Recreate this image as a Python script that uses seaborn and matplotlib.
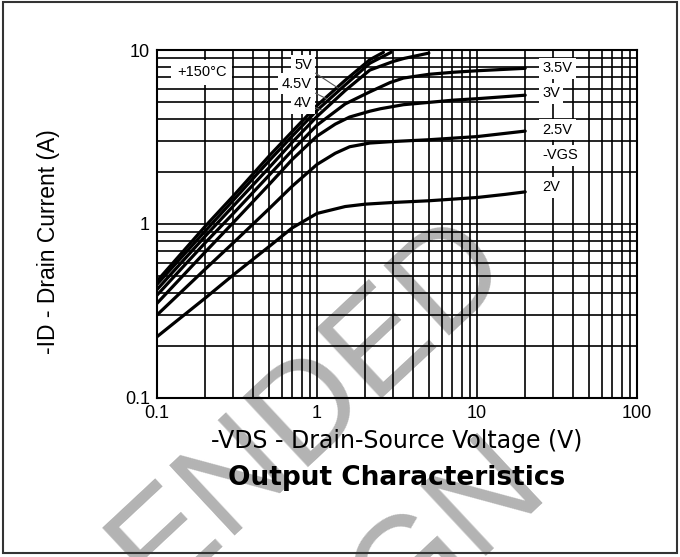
import numpy as np
import pandas as pd
import matplotlib
matplotlib.use("Agg")
import matplotlib.pyplot as plt
import seaborn as sns
from matplotlib.patches import Rectangle
from matplotlib.ticker import FixedLocator, FixedFormatter, LogLocator, NullFormatter
from matplotlib import font_manager

# ---- data (VGS curves, -VDS in V, -ID in A) ----
vds_2v = [0.1, 0.2, 0.3, 0.5, 0.7, 1.0, 1.5, 2.0, 3.0, 5.0, 10, 15, 20]
id_2v = [0.225, 0.375, 0.51, 0.74, 0.95, 1.15, 1.26, 1.30, 1.33, 1.36, 1.42, 1.48, 1.53]

vds_25v = [0.1, 0.2, 0.3, 0.5, 0.7, 1.0, 1.3, 1.6, 2.14, 3.0, 5.0, 10, 20]
id_25v = [0.30, 0.55, 0.78, 1.22, 1.65, 2.2, 2.55, 2.78, 2.92, 2.98, 3.05, 3.18, 3.42]

vds_3v = [0.1, 0.2, 0.3, 0.5, 0.7, 1.0, 1.3, 1.6, 2.14, 2.5, 3.47, 5.0, 7.1, 10, 20]
id_3v = [0.35, 0.69, 1.02, 1.68, 2.35, 3.2, 3.75, 4.12, 4.45, 4.6, 4.85, 5.0, 5.15, 5.25, 5.5]

vds_35v = [0.1, 0.2, 0.3, 0.5, 0.7, 1.0, 1.5, 2.14, 2.86, 3.47, 5.0, 7.1, 10, 20]
id_35v = [0.39, 0.78, 1.15, 1.9, 2.65, 3.7, 4.9, 5.75, 6.5, 6.9, 7.25, 7.45, 7.6, 7.85]

vds_4v = [0.1, 0.2, 0.3, 0.5, 0.7, 1.0, 1.5, 2.14, 3.0, 3.5, 5.0]
id_4v = [0.42, 0.85, 1.27, 2.1, 2.95, 4.15, 5.85, 7.67, 8.6, 8.95, 9.6]

vds_45v = [0.1, 0.2, 0.3, 0.5, 0.7, 1.0, 1.5, 2.14, 2.9]
id_45v = [0.45, 0.91, 1.37, 2.3, 3.2, 4.5, 6.3, 8.4, 9.7]

vds_5v = [0.1, 0.2, 0.3, 0.5, 0.7, 1.0, 1.5, 2.14, 2.6]
id_5v = [0.47, 0.97, 1.45, 2.45, 3.4, 4.8, 6.7, 8.8, 9.7]

vgs_names = ["2V", "2.5V", "3V", "3.5V", "4V", "4.5V", "5V"]
curves = [(vds_2v, id_2v), (vds_25v, id_25v), (vds_3v, id_3v), (vds_35v, id_35v),
          (vds_4v, id_4v), (vds_45v, id_45v), (vds_5v, id_5v)]

x_ticks = [0.1, 1, 10, 100]
x_ticklabels = ["0.1", "1", "10", "100"]
y_ticks = [0.1, 1, 10]
y_ticklabels = ["0.1", "1", "10"]

rows = []
for name, (xs, ys) in zip(vgs_names, curves):
    for i, (xv, yv) in enumerate(zip(xs, ys)):
        rows.append({"vgs": name, "vds": xv, "id": yv, "order": i})
df = pd.DataFrame(rows)

# ---- figure ----
sns.set_theme(style="white")
plt.rcParams["font.family"] = ["Liberation Sans", "DejaVu Sans"]

fig = plt.figure(figsize=(6.8, 5.57), dpi=100)
ax = fig.add_axes([0.2309, 0.2855, 0.7059, 0.6247])
ax.set_facecolor("none")

sns.lineplot(data=df, x="vds", y="id", hue="vgs", palette={n: "black" for n in vgs_names},
             sort=False, estimator=None, linewidth=2.3, legend=False, ax=ax, zorder=3)

ax.set_xscale("log")
ax.set_yscale("log")
ax.set_xlim(0.1, 100)
ax.set_ylim(0.1, 10)

ax.xaxis.set_major_locator(FixedLocator(x_ticks))
ax.xaxis.set_major_formatter(FixedFormatter(x_ticklabels))
ax.yaxis.set_major_locator(FixedLocator(y_ticks))
ax.yaxis.set_major_formatter(FixedFormatter(y_ticklabels))
ax.xaxis.set_minor_locator(LogLocator(base=10, subs=np.arange(2, 10)))
ax.yaxis.set_minor_locator(LogLocator(base=10, subs=np.arange(2, 10)))
ax.xaxis.set_minor_formatter(NullFormatter())
ax.yaxis.set_minor_formatter(NullFormatter())

ax.grid(which="both", color="black", linewidth=1.2)
ax.tick_params(which="both", length=0, labelsize=13, colors="black", pad=5)
for s in ax.spines.values():
    s.set_color("black")
    s.set_linewidth(1.5)

ax.set_xlabel("-VDS - Drain-Source Voltage (V)", fontsize=17, color="black",
              family=["DejaVu Sans"])
ax.set_ylabel("-ID - Drain Current (A)", fontsize=16.5, color="black")
ax.xaxis.set_label_coords(0.5, -0.088)
ax.yaxis.set_label_coords(-0.203, 0.448)

box = dict(facecolor="white", edgecolor="none", pad=2.5)
for txt, yv in [("3.5V", 7.88), ("3V", 5.66), ("2.5V", 3.47), ("-VGS", 2.49), ("2V", 1.63)]:
    ax.text(25.5, yv, txt, ha="left", va="center", fontsize=10.5, color="black", bbox=box, zorder=5)

ax.text(0.1334, 7.47, "+150°C", ha="left", va="center", fontsize=10.5, color="black",
        bbox=dict(facecolor="white", edgecolor="none", pad=4), zorder=5)

for txt, yv, tip in [("5V", 8.2, (1.36, 6.03)), ("4.5V", 6.38, (1.155, 5.23)), ("4V", 4.95, (1.07, 4.52))]:
    ax.annotate(txt, xy=tip, xytext=(0.93, yv), ha="right", va="center", fontsize=10.5,
                color="black", bbox=box, zorder=5,
                arrowprops=dict(arrowstyle="-", color="#555555", lw=0.8, shrinkA=0, shrinkB=0))

fig.text(397 / 680, 1 - 478 / 557, "Output Characteristics", ha="center", va="center",
         fontsize=19, fontweight="bold", color="black", zorder=5, family=["DejaVu Sans"])

# watermark behind the chart (only the part that falls inside the page)
try:
    font_manager.findfont(font_manager.FontProperties(family="Liberation Sans Narrow"),
                          fallback_to_default=False)
    wm_family, wm_size = ["Liberation Sans Narrow"], 116
except Exception:
    wm_family, wm_size = ["Liberation Sans"], 100
wm = dict(rotation=43, rotation_mode="anchor", va="baseline", fontsize=wm_size,
          fontweight="normal", color="#b3b3b3", zorder=-1, family=wm_family)
fig.text(334 / 680, 1 - 432 / 557, "ENDED", ha="center", **wm)
fig.text(397 / 680, 1 - 632 / 557, "GN", ha="left", **wm)

fig.patches.append(Rectangle((0.004, 0.007), 0.992, 0.989, transform=fig.transFigure,
                             fill=False, edgecolor="#333333", linewidth=1.5))

fig.savefig("out.png", dpi=100)
